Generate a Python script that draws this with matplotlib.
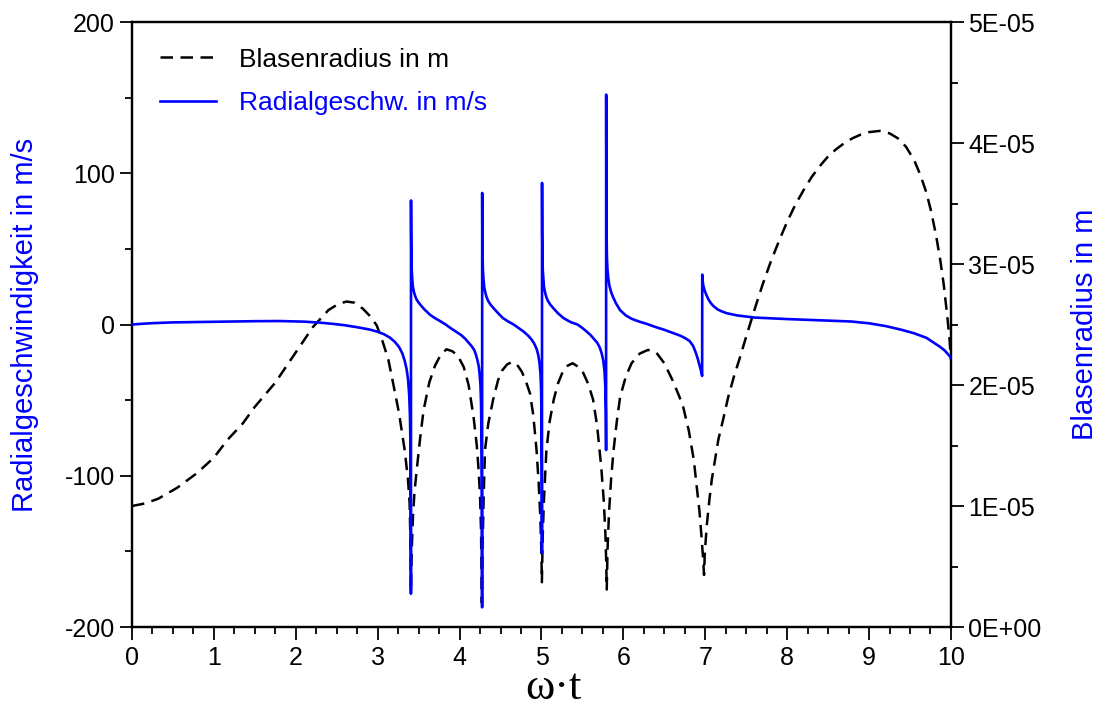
import matplotlib
matplotlib.use("Agg")
import matplotlib.pyplot as plt
from matplotlib.ticker import MultipleLocator, FuncFormatter

plt.rcParams['font.family'] = ['Liberation Sans', 'DejaVu Sans']
plt.rcParams['font.size'] = 18
plt.rcParams['axes.unicode_minus'] = False

# Blasenradius (omega*t, R in 1E-05 m)
rad_x = [0.00, 0.15, 0.32, 0.55, 0.79, 1.00, 1.17, 1.35, 1.50, 1.75, 2.03, 2.21, 2.40,
         2.52, 2.62, 2.72, 2.82, 2.92, 2.99, 3.06, 3.13, 3.19, 3.26, 3.33, 3.37, 3.39,
         3.400, 3.406,
         3.415, 3.43, 3.45, 3.48, 3.52, 3.56, 3.63, 3.70, 3.77, 3.84, 3.91, 3.98, 4.05,
         4.11, 4.17, 4.21, 4.23, 4.25, 4.262, 4.272,
         4.282, 4.295, 4.31, 4.35, 4.41, 4.47, 4.52, 4.58, 4.64, 4.70, 4.76, 4.81,
         4.86, 4.90, 4.94, 4.965, 4.985, 4.998, 5.005,
         5.015, 5.03, 5.06, 5.10, 5.15, 5.20, 5.26, 5.32, 5.38, 5.45, 5.51, 5.57,
         5.63, 5.68, 5.73, 5.76, 5.78, 5.79, 5.797,
         5.807, 5.825, 5.85, 5.88, 5.92, 5.96, 6.03, 6.10, 6.20, 6.30, 6.40, 6.50,
         6.60, 6.68, 6.73, 6.80, 6.86, 6.90, 6.93, 6.955, 6.975, 6.985,
         6.995, 7.02, 7.05, 7.08, 7.16, 7.22, 7.28, 7.35, 7.42, 7.50, 7.60, 7.70,
         7.80, 7.90, 8.00, 8.10, 8.20, 8.30, 8.40, 8.50, 8.60, 8.70, 8.80, 8.90,
         9.00, 9.13, 9.25, 9.35, 9.45, 9.55, 9.63, 9.70, 9.76, 9.82, 9.87, 9.91,
         9.95, 9.98, 10.00]
rad_r = [1.00, 1.02, 1.06, 1.15, 1.27, 1.40, 1.55, 1.68, 1.82, 2.02, 2.30, 2.48, 2.62,
         2.67, 2.69, 2.68, 2.63, 2.56, 2.49, 2.36, 2.21, 2.01, 1.77, 1.46, 1.22, 1.02,
         0.70, 0.29,
         0.62, 0.91, 1.12, 1.32, 1.57, 1.79, 2.02, 2.16, 2.25, 2.295, 2.28, 2.24, 2.15,
         2.00, 1.74, 1.50, 1.32, 1.08, 0.80, 0.20,
         0.70, 1.10, 1.46, 1.68, 1.88, 2.04, 2.12, 2.17, 2.19, 2.17, 2.11, 2.03,
         1.93, 1.75, 1.46, 1.20, 0.92, 0.65, 0.37,
         0.75, 1.05, 1.46, 1.70, 1.88, 2.01, 2.11, 2.16, 2.18, 2.15, 2.10, 2.01,
         1.88, 1.66, 1.32, 1.05, 0.78, 0.55, 0.31,
         0.65, 0.95, 1.22, 1.46, 1.70, 1.90, 2.07, 2.18, 2.26, 2.29, 2.27, 2.18,
         2.04, 1.91, 1.82, 1.62, 1.38, 1.13, 0.95, 0.74, 0.55, 0.43,
         0.62, 0.85, 1.05, 1.22, 1.55, 1.72, 1.90, 2.07, 2.22, 2.40, 2.62, 2.83,
         3.02, 3.19, 3.35, 3.49, 3.61, 3.72, 3.81, 3.89, 3.95, 4.00, 4.04, 4.07,
         4.09, 4.10, 4.08, 4.04, 3.97, 3.86, 3.73, 3.59, 3.43, 3.23, 3.03, 2.84,
         2.60, 2.40, 2.21]

# Radialgeschwindigkeit (omega*t, m/s)
vel_x = [0.00, 0.10, 0.25, 0.50, 0.75, 1.00, 1.50, 1.80, 2.10, 2.30, 2.46, 2.60,
         2.75, 2.90, 3.00, 3.08, 3.15, 3.21, 3.26, 3.30, 3.33, 3.355, 3.372, 3.385,
         3.394, 3.400, 3.404, 3.406,
         3.407, 3.409, 3.412, 3.416, 3.422, 3.43, 3.445, 3.46, 3.475, 3.50, 3.53,
         3.57, 3.64, 3.70, 3.77, 3.83, 3.88, 3.95, 4.02, 4.07, 4.11, 4.15, 4.18,
         4.20, 4.22, 4.235, 4.245, 4.255, 4.262, 4.268, 4.272, 4.275,
         4.276, 4.278, 4.281, 4.285, 4.292, 4.30, 4.315, 4.33, 4.35, 4.38, 4.42,
         4.47, 4.53, 4.60, 4.66, 4.72, 4.78, 4.84, 4.88, 4.91, 4.94, 4.96, 4.975,
         4.987, 4.995, 5.000, 5.004, 5.006,
         5.007, 5.009, 5.012, 5.016, 5.023, 5.03, 5.045, 5.06, 5.08, 5.11, 5.15,
         5.20, 5.27, 5.36, 5.44, 5.50, 5.55, 5.60, 5.64, 5.68, 5.71, 5.735, 5.755,
         5.77, 5.78, 5.786, 5.789,
         5.790, 5.792, 5.795, 5.799, 5.805, 5.815, 5.83, 5.85, 5.875, 5.91, 5.96,
         6.03, 6.10, 6.20, 6.28, 6.40, 6.50, 6.61, 6.70, 6.76, 6.81, 6.85, 6.88,
         6.905, 6.925, 6.945, 6.962,
         6.963, 6.968, 6.975, 6.99, 7.01, 7.04, 7.07, 7.10, 7.15, 7.20, 7.26, 7.39,
         7.60, 8.00, 8.40, 8.78, 9.00, 9.20, 9.39, 9.55, 9.70, 9.79, 9.86, 9.92,
         9.97, 10.00]
vel_v = [0.0, 0.4, 0.9, 1.4, 1.6, 1.8, 2.2, 2.3, 1.9, 1.2, 0.4, -0.5,
         -1.8, -3.3, -4.8, -6.5, -8.7, -11.5, -14.8, -19.0, -24.0, -30.0, -37.0, -47.0,
         -60.0, -80.0, -120.0, -178.0,
         82.0, 60.0, 45.0, 36.0, 30.0, 25.0, 21.0, 18.5, 16.5, 14.5, 12.5,
         10.0, 6.4, 4.2, 2.0, 0.0, -2.0, -4.5, -7.0, -9.5, -12.0, -14.5, -17.0,
         -20.0, -24.0, -28.0, -33.0, -40.0, -52.0, -75.0, -110.0, -187.0,
         87.0, 60.0, 45.0, 36.0, 30.0, 25.0, 21.0, 18.0, 15.5, 13.0, 10.5,
         7.5, 4.2, 1.8, 0.0, -2.3, -4.6, -7.5, -10.0, -12.5, -16.0, -20.0, -25.0,
         -32.0, -42.0, -60.0, -100.0, -151.0,
         93.6, 60.0, 45.0, 36.0, 30.0, 25.0, 21.0, 18.0, 15.5, 13.0, 10.5,
         7.5, 4.2, 1.5, 0.0, -2.3, -4.6, -7.0, -9.5, -12.0, -15.0, -19.0, -24.0,
         -31.0, -42.0, -58.0, -83.0,
         152.0, 100.0, 60.0, 45.0, 37.0, 31.0, 25.5, 21.5, 18.0, 14.0, 9.5,
         6.0, 3.8, 1.8, 0.5, -1.8, -3.5, -5.7, -7.5, -9.2, -11.0, -14.0, -18.0,
         -22.0, -26.0, -30.0, -34.0,
         33.0, 29.0, 26.0, 23.0, 20.0, 16.5, 14.0, 12.2, 10.0, 8.7, 7.5, 6.0,
         4.6, 3.6, 2.8, 2.0, 0.8, -1.0, -3.4, -5.8, -8.8, -12.0, -14.5, -17.0,
         -20.0, -22.0]

fig = plt.figure(figsize=(11, 7.08), dpi=100)
ax = fig.add_axes([0.12, 0.1144, 0.7445, 0.8545])
ax2 = ax.twinx()

ax.plot(vel_x, vel_v, color='#0000ff', lw=1.9, label='Radialgeschw. in m/s', zorder=3)
ax2.plot(rad_x, [r * 1e-5 for r in rad_r], color='black', lw=1.8,
         dashes=(5, 3), label='Blasenradius in m')

ax.set_zorder(ax2.get_zorder() + 1)
ax.patch.set_visible(False)

ax.set_xlim(0, 10)
ax.set_ylim(-200, 200)
ax2.set_ylim(0, 5e-5)

ax.xaxis.set_major_locator(MultipleLocator(1))
ax.xaxis.set_minor_locator(MultipleLocator(0.25))
ax.yaxis.set_major_locator(MultipleLocator(100))
ax.yaxis.set_minor_locator(MultipleLocator(50))
ax2.yaxis.set_major_locator(MultipleLocator(1e-5))
ax2.yaxis.set_minor_locator(MultipleLocator(5e-6))
ax2.yaxis.set_major_formatter(FuncFormatter(lambda v, p: '%.0E' % v))

for a in (ax, ax2):
    a.tick_params(which='major', direction='out', length=9, width=1.3, labelsize=18)
    a.tick_params(which='minor', direction='out', length=5, width=1.3)
    for s in a.spines.values():
        s.set_linewidth(1.6)
ax.tick_params(axis='x', pad=5)

ax.set_ylabel('Radialgeschwindigkeit in m/s', color='#0000ff', fontsize=21)
ax.yaxis.set_label_coords(-0.114, 0.5)
ax2.set_ylabel('Blasenradius in m', color='#0000ff', fontsize=21)
ax2.yaxis.set_label_coords(1.147, 0.5)
ax.set_xlabel('ω·t', family=['Liberation Serif', 'DejaVu Serif'], fontsize=32)
ax.xaxis.set_label_coords(0.515, -0.068)

h1, l1 = ax2.get_legend_handles_labels()
h2, l2 = ax.get_legend_handles_labels()
leg = ax.legend(h1 + h2, l1 + l2, loc='upper left', bbox_to_anchor=(0.0215, 0.975),
                frameon=False, fontsize=19, handlelength=2.1, handletextpad=0.9,
                borderaxespad=0, labelspacing=0.75)
for t, c in zip(leg.get_texts(), ['black', '#0000ff']):
    t.set_color(c)

fig.savefig('out.png', dpi=100)
